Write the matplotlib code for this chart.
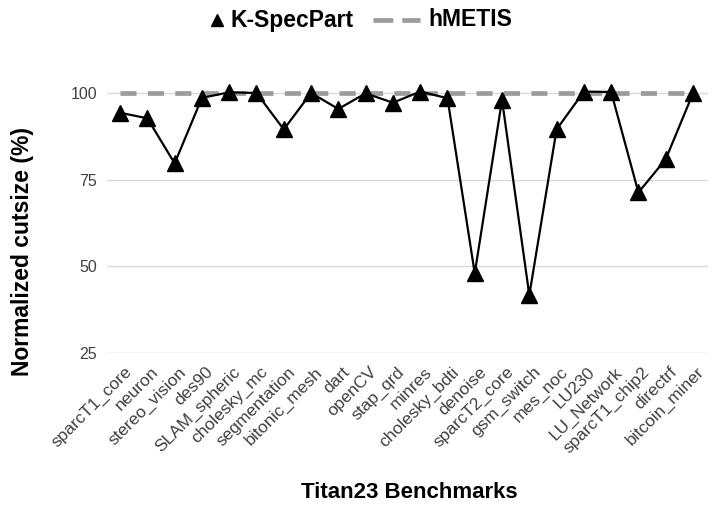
import matplotlib
matplotlib.use("Agg")
import matplotlib.pyplot as plt
from matplotlib.lines import Line2D
import matplotlib.transforms as mtransforms

plt.rcParams['font.family'] = ['Liberation Sans', 'DejaVu Sans']

benchmarks = ["sparcT1_core", "neuron", "stereo_vision", "des90", "SLAM_spheric",
              "cholesky_mc", "segmentation", "bitonic_mesh", "dart", "openCV",
              "stap_qrd", "minres", "cholesky_bdti", "denoise", "sparcT2_core",
              "gsm_switch", "mes_noc", "LU230", "LU_Network", "sparcT1_chip2",
              "directrf", "bitcoin_miner"]
kspecpart = [94.3, 92.7, 79.7, 98.6, 100.2, 100.0, 89.5, 100.0, 95.4, 99.9,
             97.2, 100.4, 98.5, 48.0, 98.0, 41.7, 89.5, 100.4, 100.3, 71.3,
             80.9, 99.9]
hmetis = [100.0] * len(benchmarks)
yticks = [25, 50, 75, 100]

W, H = 714, 507
fig = plt.figure(figsize=(W / 100, H / 100), dpi=100)
ax = fig.add_axes([107 / W, 1 - 353 / H, 601 / W, (353 - 82.6) / H])

x = list(range(len(benchmarks)))
ax.plot(x, hmetis, color='#9c9c9c', lw=3.4, dashes=(3.4, 2.4), zorder=2)
ax.plot(x, kspecpart, color='black', lw=1.6, marker='^', markersize=11, zorder=3)

ax.set_xlim(-0.48, len(benchmarks) - 0.45)
ax.set_ylim(25, 103)
ax.set_yticks(yticks)
ax.yaxis.grid(True, color='#d9d9d9', lw=1.0)
ax.set_axisbelow(True)
for s in ax.spines.values():
    s.set_visible(False)
ax.tick_params(axis='both', length=0, colors='#404040', labelsize=11.5)
ax.tick_params(axis='y', pad=7)
ax.set_xticks(x)
ax.set_xticklabels(benchmarks, rotation=45, ha='right', va='center',
                   rotation_mode='anchor', fontsize=12.5, color='#404040')
ax.tick_params(axis='x', pad=12)
offset = mtransforms.ScaledTranslation(9 / 100, 0, fig.dpi_scale_trans)
for lab in ax.get_xticklabels():
    lab.set_transform(lab.get_transform() + offset)

fig.text(23 / W, 1 - 252 / H, "Normalized cutsize (%)", fontsize=16.5, fontweight='bold',
         rotation=90, ha='center', va='center')
fig.text(409.5 / W, 1 - 492 / H, "Titan23 Benchmarks", fontsize=16, fontweight='bold',
         ha='center', va='center')

# legend
ly = 1 - 20 / H
fig.add_artist(Line2D([217 / W], [ly], color='black', marker='^', ls='none',
                      markersize=9, transform=fig.transFigure))
fig.text(230 / W, ly, "K-SpecPart", fontsize=16.5, fontweight='bold', ha='left', va='center')
fig.add_artist(Line2D([373 / W, 420 / W], [ly, ly], color='#9c9c9c', lw=3.4,
                      dashes=(4.2, 1.9), transform=fig.transFigure))
fig.text(428 / W, ly, "hMETIS", fontsize=16.5, fontweight='bold', ha='left', va='center')

fig.savefig("out.png", dpi=100)
